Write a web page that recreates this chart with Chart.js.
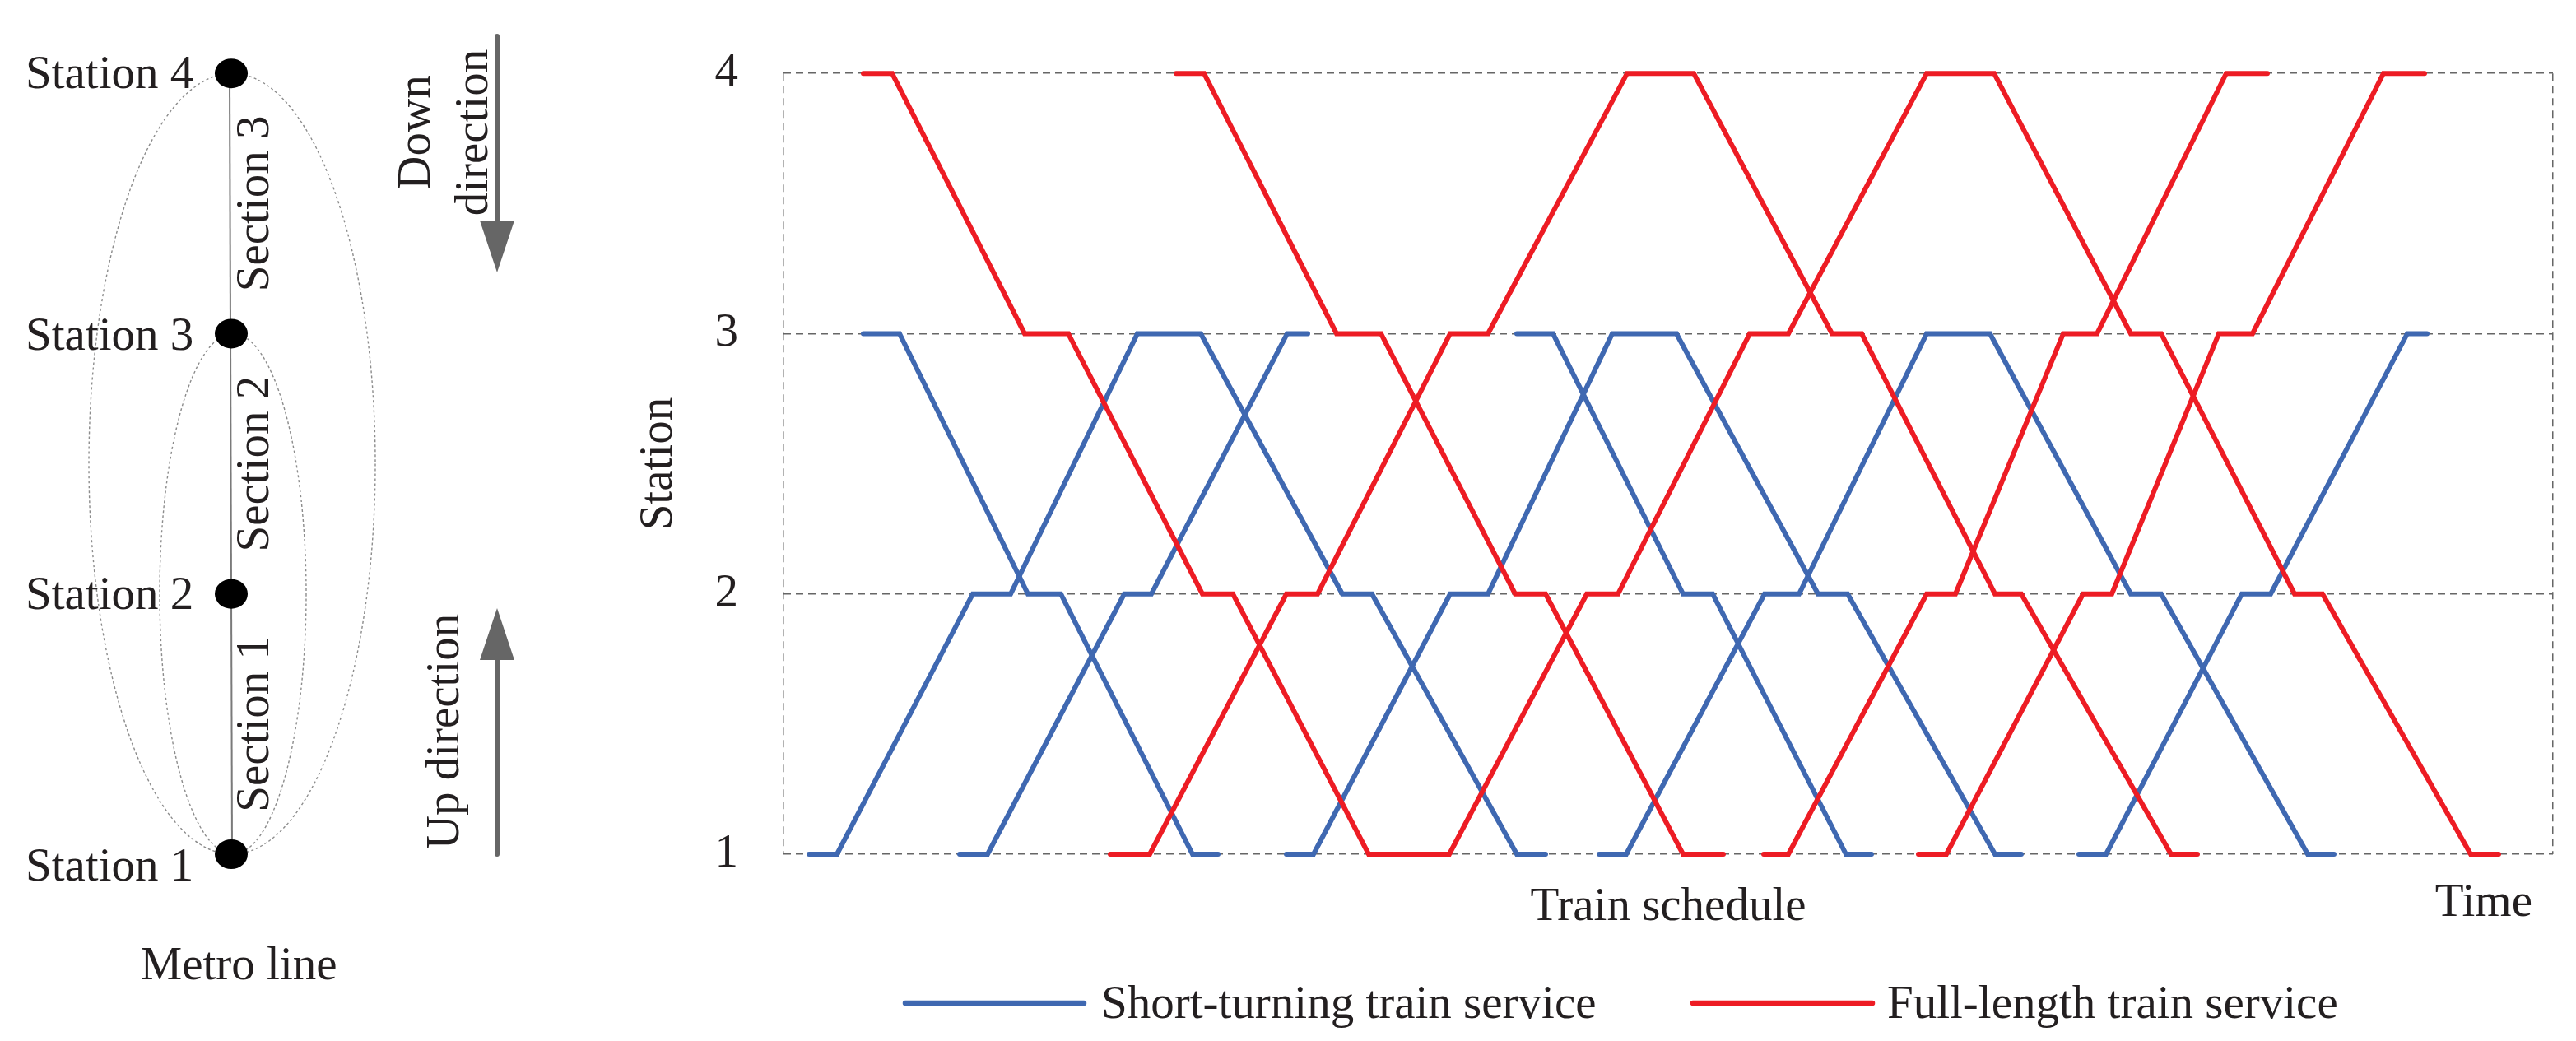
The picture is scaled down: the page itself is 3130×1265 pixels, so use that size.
<!DOCTYPE html>
<html>
<head>
<meta charset="utf-8">
<script src="https://cdn.jsdelivr.net/npm/chart.js@4.4.1/dist/chart.umd.min.js"></script>
<style>
html,body{margin:0;padding:0;background:#fff;}
#wrap{position:relative;width:3130px;height:1265px;}
</style>
</head>
<body>
<div id="wrap"><canvas id="c"></canvas></div>
<script>
// ---------- data ----------
const stationTicks = [1, 2, 3, 4];
const stationNames = ['Station 1', 'Station 2', 'Station 3', 'Station 4'];
const sectionNames = ['Section 1', 'Section 2', 'Section 3'];
const timeRange = [0, 215];
const seriesNames = ['Short-turning train service', 'Full-length train service'];

// Short-turning trains (blue): [time, station]
const shortTrain1 = [[9.7,3],[14.1,3],[29.7,2],[33.7,2],[49.7,1],[52.8,1]];
const shortTrain2 = [[3.1,1],[6.5,1],[23.0,2],[27.6,2],[43.0,3],[50.7,3],[67.9,2],[71.5,2],[89.1,1],[92.6,1]];
const shortTrain3 = [[21.4,1],[24.8,1],[41.4,2],[44.7,2],[61.2,3],[63.7,3]];
const shortTrain4 = [[89.1,3],[93.5,3],[109.3,2],[112.9,2],[129.1,1],[132.2,1]];
const shortTrain5 = [[61.1,1],[64.4,1],[81.0,2],[85.6,2],[100.7,3],[108.5,3],[125.7,2],[129.3,2],[147.2,1],[150.4,1]];
const shortTrain6 = [[99.1,1],[102.4,1],[119.2,2],[123.4,2],[138.9,3],[146.6,3],[163.7,2],[167.4,2],[185.2,1],[188.4,1]];
const shortTrain7 = [[157.4,1],[160.7,1],[177.2,2],[180.7,2],[197.3,3],[199.7,3]];

// Full-length trains (red): [time, station]
const fullTrain1 = [[9.7,4],[13.2,4],[29.3,3],[34.6,3],[50.9,2],[54.6,2],[71.1,1],[80.9,1],[97.6,2],[101.4,2],[117.4,3],[122.1,3],[138.9,4],[147.1,4],[163.7,3],[167.4,3],[183.6,2],[187.0,2],[205.0,1],[208.4,1]];
const fullTrain2 = [[47.7,4],[51.1,4],[67.2,3],[72.6,3],[88.9,2],[92.6,2],[109.3,1],[114.2,1]];
const fullTrain3 = [[39.7,1],[44.5,1],[61.1,2],[64.9,2],[81.0,3],[85.6,3],[102.5,4],[110.6,4],[127.4,3],[131.0,3],[147.2,2],[150.4,2],[168.6,1],[171.8,1]];
const fullTrain4 = [[119.1,1],[122.1,1],[138.9,2],[142.4,2],[155.5,3],[159.6,3],[175.3,4],[180.3,4]];
const fullTrain5 = [[137.9,1],[141.3,1],[157.9,2],[161.4,2],[174.4,3],[178.5,3],[194.4,4],[199.4,4]];

const shortTrains = [shortTrain1, shortTrain2, shortTrain3, shortTrain4, shortTrain5, shortTrain6, shortTrain7];
const fullTrains = [fullTrain1, fullTrain2, fullTrain3, fullTrain4, fullTrain5];

// ---------- styles ----------
const BLUE = '#3f68b1';
const RED = '#ed1c24';
const FONT = '"Liberation Serif", "Times New Roman", serif';
const FS = 57;
const TXT = '#231f20';

function makeDs(train, color, label) {
  return {
    label: label,
    data: train.map(p => ({x: p[0], y: p[1]})),
    borderColor: color,
    backgroundColor: color,
    borderWidth: 6,
    borderCapStyle: 'round',
    borderJoinStyle: 'miter',
    pointRadius: 0,
    pointHoverRadius: 0,
    tension: 0,
    fill: false,
    clip: false
  };
}

const datasets = [];
fullTrains.forEach(t => datasets.push(makeDs(t, RED, seriesNames[1])));
shortTrains.forEach(t => datasets.push(makeDs(t, BLUE, seriesNames[0])));

// ---------- decoration plugin (metro line diagram, legend, Time label) ----------
const decor = {
  id: 'decor',
  afterDraw(chart) {
    const ctx = chart.ctx;
    const ys = chart.scales.y;
    const py = s => ys.getPixelForValue(s);
    const cx = 281;
    ctx.save();

    // dotted ellipses
    ctx.strokeStyle = '#8c8c8c';
    ctx.lineWidth = 1.4;
    ctx.setLineDash([3, 3]);
    ctx.beginPath();
    ctx.ellipse(cx + 1, (py(4) + py(1)) / 2, 174, (py(1) - py(4)) / 2, 0, 0, Math.PI * 2);
    ctx.stroke();
    ctx.beginPath();
    ctx.ellipse(cx + 2, (py(3) + py(1)) / 2, 89, (py(1) - py(3)) / 2, 0, 0, Math.PI * 2);
    ctx.stroke();
    ctx.setLineDash([]);

    // line
    ctx.strokeStyle = '#7a7a7a';
    ctx.lineWidth = 2;
    ctx.beginPath();
    ctx.moveTo(cx - 2, py(4));
    ctx.lineTo(cx + 1, py(1));
    ctx.stroke();

    // station dots + labels
    ctx.fillStyle = '#000';
    stationTicks.forEach(s => {
      ctx.beginPath();
      ctx.ellipse(cx, py(s), 20, 18, 0, 0, Math.PI * 2);
      ctx.fill();
    });
    ctx.fillStyle = TXT;
    ctx.font = FS + 'px ' + FONT;
    ctx.textAlign = 'left';
    ctx.textBaseline = 'alphabetic';
    const labelOffsets = [32, 18, 20, 18];
    stationTicks.forEach((s, i) => {
      ctx.fillText(stationNames[i], 31, py(s) + labelOffsets[i]);
    });

    // section labels (rotated)
    ctx.textAlign = 'center';
    sectionNames.forEach((name, i) => {
      const mid = (py(i + 1) + py(i + 2)) / 2;
      ctx.save();
      ctx.translate(326, mid);
      ctx.rotate(-Math.PI / 2);
      ctx.fillText(name, 0, 0);
      ctx.restore();
    });

    // direction texts
    function rot(text, x, y) {
      ctx.save();
      ctx.translate(x, y);
      ctx.rotate(-Math.PI / 2);
      ctx.fillText(text, 0, 0);
      ctx.restore();
    }
    rot('Down', 522, 161);
    rot('direction', 592, 161);
    rot('Up direction', 557, 889);

    // arrows
    ctx.fillStyle = '#666';
    ctx.strokeStyle = '#666';
    ctx.lineWidth = 6;
    ctx.lineCap = 'round';
    ctx.beginPath(); ctx.moveTo(604, 44); ctx.lineTo(604, 272); ctx.stroke();
    ctx.beginPath(); ctx.moveTo(583, 268); ctx.lineTo(625, 268); ctx.lineTo(604, 331); ctx.closePath(); ctx.fill();
    ctx.beginPath(); ctx.moveTo(604, 798); ctx.lineTo(604, 1038); ctx.stroke();
    ctx.beginPath(); ctx.moveTo(604, 739); ctx.lineTo(625, 802); ctx.lineTo(583, 802); ctx.closePath(); ctx.fill();

    // Metro line caption
    ctx.fillStyle = TXT;
    ctx.textAlign = 'center';
    ctx.fillText('Metro line', 290, 1190);

    // Time label
    ctx.textAlign = 'right';
    ctx.fillText('Time', 3077, 1113);

    // legend
    const items = [
      {color: BLUE, x0: 1100, x1: 1317, tx: 1338, text: seriesNames[0]},
      {color: RED, x0: 2057, x1: 2275, tx: 2293, text: seriesNames[1]}
    ];
    ctx.lineWidth = 6.5;
    ctx.lineCap = 'round';
    ctx.textAlign = 'left';
    items.forEach(it => {
      ctx.strokeStyle = it.color;
      ctx.beginPath(); ctx.moveTo(it.x0, 1219); ctx.lineTo(it.x1, 1219); ctx.stroke();
      ctx.fillStyle = TXT;
      ctx.fillText(it.text, it.tx, 1237);
    });

    ctx.restore();
  }
};

new Chart(document.getElementById('c'), {
  type: 'line',
  data: { datasets: datasets },
  options: {
    responsive: true,
    maintainAspectRatio: false,
    animation: false,
    events: [],
    layout: { padding: { left: 0, right: 28, top: 44, bottom: 0 } },
    plugins: {
      legend: { display: false },
      tooltip: { enabled: false },
      title: { display: false }
    },
    scales: {
      x: {
        type: 'linear',
        min: timeRange[0],
        max: timeRange[1],
        afterBuildTicks: s => { s.ticks = [{value: timeRange[0]}, {value: timeRange[1]}]; },
        afterFit: s => { s.height = 227; },
        ticks: { display: false },
        grid: { color: '#666666', lineWidth: 1.5, drawTicks: false, drawOnChartArea: true },
        border: { display: false, dash: [9, 6] },
        title: {
          display: true,
          text: 'Train schedule',
          color: TXT,
          font: { family: FONT, size: FS },
          padding: { top: 0, bottom: 128 }
        }
      },
      y: {
        type: 'linear',
        min: 1,
        max: 4,
        afterBuildTicks: s => { s.ticks = stationTicks.map(v => ({value: v})); },
        afterFit: s => { s.width = 952; },
        ticks: {
          color: TXT,
          font: { family: FONT, size: FS },
          padding: 55,
          callback: v => String(v)
        },
        grid: { color: '#666666', lineWidth: 1.5, drawTicks: false },
        border: { display: false, dash: [9, 6] },
        title: {
          display: true,
          text: 'Station',
          color: TXT,
          font: { family: FONT, size: FS },
          padding: { top: 767, bottom: 0 }
        }
      }
    }
  },
  plugins: [decor]
});
</script>
</body>
</html>
